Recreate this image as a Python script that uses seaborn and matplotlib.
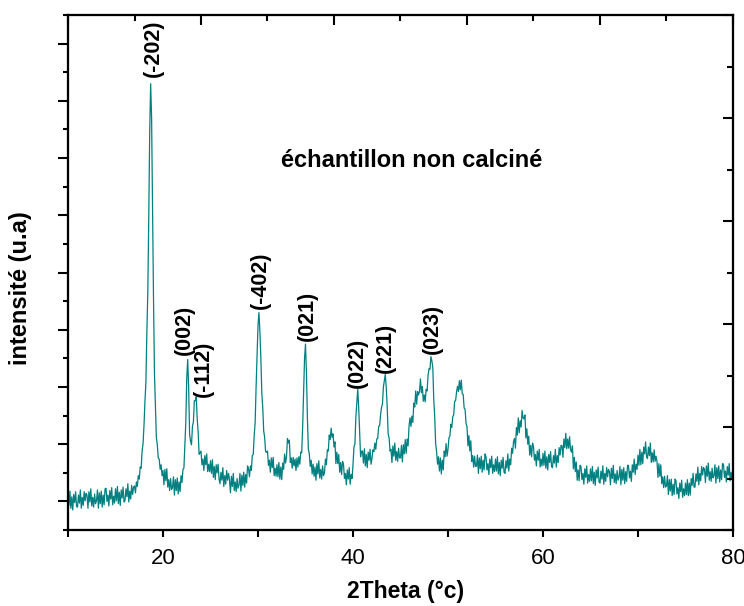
import numpy as np
import pandas as pd
import seaborn as sns
import matplotlib.pyplot as plt
from matplotlib.ticker import MultipleLocator, NullFormatter

# XRD scan: 10 to 80 deg, step 0.1 deg
scan_start = 10.0
scan_step = 0.1

intensity = [
    # 10
    1140, 930, 1180, 880, 1080, 850, 1120, 980, 1170, 910,
    900, 1110, 970, 1200, 880, 1070, 930, 1170, 1010, 1140,
    1110, 880, 1170, 990, 1220, 920, 1070, 900, 1130, 960,
    1010, 1200, 880, 1150, 960, 1180, 900, 1110, 940, 1220,
    1230, 1000, 1110, 920, 1190, 1040, 1240, 940, 1090, 970,
    # 15
    1220, 1010, 1260, 960, 1160, 930, 1200, 1060, 1250, 990,
    1010, 1220, 1080, 1310, 990, 1180, 1040, 1280, 1120, 1250,
    1270, 1150, 1340, 1260, 1450, 1390, 1600, 1580, 1880, 2010,
    2330, 2750, 3080, 3950, 4650, 5950, 7450, 8300, 7700, 6050,
    4560, 3250, 2650, 2120, 1990, 1760, 1740, 1560, 1640, 1450,
    # 20
    1540, 1290, 1560, 1360, 1570, 1250, 1380, 1190, 1400, 1210,
    1240, 1430, 1110, 1380, 1190, 1410, 1130, 1340, 1170, 1450,
    1330, 1560, 1580, 1960, 2380, 3150, 3480, 2990, 2170, 2050,
    1990, 2310, 2390, 2760, 2760, 2830, 2440, 2220, 1820, 1850,
    1880, 1640, 1740, 1540, 1800, 1640, 1830, 1520, 1650, 1520,
    # 25
    1710, 1490, 1730, 1420, 1610, 1380, 1640, 1500, 1650, 1390,
    1310, 1510, 1370, 1590, 1260, 1450, 1300, 1540, 1370, 1490,
    1380, 1150, 1440, 1260, 1490, 1190, 1340, 1170, 1400, 1230,
    1290, 1490, 1180, 1460, 1280, 1510, 1250, 1470, 1320, 1620,
    1570, 1430, 1620, 1540, 1800, 1820, 2150, 2380, 3000, 3520,
    # 30
    4080, 4300, 3960, 3510, 2900, 2640, 2230, 2120, 1870, 1860,
    1880, 1630, 1720, 1510, 1760, 1590, 1770, 1450, 1580, 1440,
    1640, 1430, 1680, 1390, 1600, 1380, 1670, 1560, 1830, 1670,
    1780, 2100, 2020, 2070, 1680, 1760, 1580, 1770, 1620, 1740,
    1540, 1760, 1600, 1780, 1650, 1860, 1850, 2300, 2900, 3500,
    # 35
    3750, 3250, 2460, 1920, 1830, 1610, 1720, 1480, 1650, 1440,
    1600, 1370, 1660, 1480, 1710, 1410, 1560, 1390, 1620, 1450,
    1500, 1740, 1640, 1900, 1880, 2160, 2080, 2280, 2120, 2180,
    1950, 2040, 1660, 1860, 1660, 1820, 1510, 1680, 1470, 1700,
    1650, 1400, 1490, 1290, 1550, 1390, 1590, 1300, 1470, 1400,
    # 40
    1640, 1950, 2000, 2470, 2730, 2960, 2640, 2220, 1780, 1880,
    1880, 1670, 1920, 1620, 1820, 1590, 1860, 1720, 1910, 1650,
    1750, 1900, 1870, 2020, 1910, 2090, 2100, 2310, 2320, 2510,
    2640, 2700, 3000, 3110, 3220, 2990, 2650, 2180, 2110, 1880,
    1910, 1680, 1970, 1790, 2020, 1720, 1870, 1700, 1930, 1760,
    # 45
    1760, 1980, 1690, 1990, 1830, 2080, 1840, 2090, 1970, 2320,
    2460, 2310, 2490, 2380, 2720, 2650, 2930, 2700, 2920, 2860,
    2920, 3140, 2900, 3010, 2750, 2860, 2740, 2960, 2930, 3200,
    3320, 3310, 3530, 3460, 3340, 2790, 2480, 2010, 1870, 1650,
    1780, 1530, 1760, 1480, 1720, 1550, 1880, 1780, 2010, 1790,
    # 50
    1910, 2110, 2140, 2350, 2290, 2480, 2510, 2750, 2760, 2910,
    3010, 2920, 3110, 2950, 3120, 2880, 2870, 2630, 2610, 2360,
    2310, 1970, 2150, 1880, 2060, 1700, 1800, 1600, 1790, 1610,
    1620, 1810, 1490, 1760, 1570, 1790, 1510, 1720, 1550, 1830,
    1780, 1550, 1660, 1470, 1740, 1590, 1790, 1490, 1640, 1520,
    # 55
    1740, 1530, 1780, 1480, 1680, 1450, 1720, 1580, 1770, 1510,
    1490, 1710, 1580, 1830, 1530, 1740, 1640, 1930, 1840, 2050,
    2100, 1930, 2290, 2160, 2460, 2200, 2410, 2300, 2590, 2460,
    2440, 2510, 2110, 2270, 2000, 2140, 1810, 1980, 1780, 2020,
    1960, 1720, 1820, 1620, 1880, 1720, 1910, 1600, 1740, 1620,
    # 60
    1840, 1630, 1880, 1580, 1780, 1550, 1820, 1680, 1870, 1610,
    1590, 1800, 1670, 1910, 1600, 1800, 1680, 1940, 1810, 1980,
    1970, 1770, 2090, 1940, 2190, 1920, 2090, 1930, 2130, 1900,
    1860, 1970, 1570, 1770, 1520, 1690, 1370, 1550, 1360, 1630,
    1610, 1380, 1490, 1300, 1570, 1420, 1620, 1320, 1470, 1350,
    # 65
    1570, 1360, 1610, 1310, 1510, 1280, 1550, 1410, 1600, 1340,
    1320, 1530, 1390, 1620, 1300, 1490, 1350, 1590, 1430, 1560,
    1520, 1290, 1580, 1400, 1630, 1330, 1480, 1310, 1540, 1370,
    1420, 1610, 1290, 1560, 1370, 1590, 1310, 1520, 1350, 1630,
    1630, 1410, 1530, 1350, 1640, 1510, 1740, 1470, 1650, 1560,
    # 70
    1810, 1630, 1910, 1640, 1860, 1660, 1950, 1830, 2040, 1780,
    1750, 1950, 1800, 2020, 1680, 1850, 1690, 1900, 1700, 1790,
    1700, 1420, 1660, 1440, 1640, 1310, 1430, 1240, 1440, 1250,
    1270, 1450, 1120, 1380, 1180, 1390, 1100, 1300, 1120, 1390,
    1360, 1130, 1240, 1050, 1320, 1170, 1370, 1070, 1220, 1100,
    # 75
    1320, 1120, 1380, 1100, 1320, 1110, 1400, 1280, 1490, 1250,
    1250, 1480, 1350, 1600, 1290, 1490, 1360, 1610, 1460, 1590,
    1560, 1330, 1620, 1440, 1670, 1370, 1520, 1350, 1580, 1410,
    1450, 1640, 1320, 1590, 1400, 1620, 1340, 1550, 1380, 1660,
    1650, 1420, 1530, 1340, 1610, 1460, 1660, 1360, 1510, 1390,
    1480,
]

# Miller indices of the labelled peaks
peak_labels = ["(-202)", "(002)", "(-112)", "(-402)", "(021)", "(022)", "(221)", "(023)"]
peak_pos = [18.95, 22.3, 24.2, 30.2, 35.2, 40.5, 43.4, 48.4]
peak_top = [8410, 3550, 2820, 4370, 3810, 2980, 3250, 3570]

two_theta = np.round(scan_start + scan_step * np.arange(len(intensity)), 2)
df = pd.DataFrame({"2theta": two_theta, "I": intensity})

sns.set_style("ticks")
plt.rcParams["font.family"] = ["Liberation Sans", "DejaVu Sans"]
plt.rcParams.update({
    "text.color": "black", "axes.labelcolor": "black", "axes.edgecolor": "black",
    "xtick.color": "black", "ytick.color": "black",
})

fig = plt.figure(figsize=(7.44, 6.06), dpi=100)
ax = fig.add_axes([0.0914, 0.1254, 0.8938, 0.8498])

sns.lineplot(data=df, x="2theta", y="I", ax=ax, color="#008080", linewidth=0.9)

ax.set_xlim(10, 80)
ax.set_ylim(500, 9500)

ax.xaxis.set_major_locator(MultipleLocator(20))
ax.xaxis.set_minor_locator(MultipleLocator(10))
ax.yaxis.set_major_locator(MultipleLocator(1000))
ax.yaxis.set_minor_locator(MultipleLocator(500))
ax.yaxis.set_major_formatter(NullFormatter())
ax.tick_params(axis="x", which="major", direction="out", length=5, width=1.5,
               labelsize=16, pad=8)
ax.tick_params(axis="x", which="minor", direction="out", length=5, width=1.5)
ax.tick_params(axis="y", which="major", direction="out", length=7, width=1.5)
ax.tick_params(axis="y", which="minor", direction="out", length=3.5, width=1.5)
for s in ax.spines.values():
    s.set_linewidth(1.5)
    s.set_visible(True)

# top and right frame ticks (inward, 0-10 scale)
ax_top = ax.twiny()
ax_top.set_xlim(0, 10)
ax_top.xaxis.set_major_locator(MultipleLocator(2))
ax_top.xaxis.set_minor_locator(MultipleLocator(1))
ax_top.xaxis.set_major_formatter(NullFormatter())
ax_top.tick_params(axis="x", which="major", direction="in", length=7, width=1.5)
ax_top.tick_params(axis="x", which="minor", direction="in", length=4, width=1.5)
ax_right = ax.twinx()
ax_right.set_ylim(0, 10)
ax_right.yaxis.set_major_locator(MultipleLocator(2))
ax_right.yaxis.set_minor_locator(MultipleLocator(1))
ax_right.yaxis.set_major_formatter(NullFormatter())
ax_right.tick_params(axis="y", which="major", direction="in", length=7, width=1.5)
ax_right.tick_params(axis="y", which="minor", direction="in", length=4, width=1.5)
for a in (ax_top, ax_right):
    for s in a.spines.values():
        s.set_linewidth(1.5)

for lab, x, y in zip(peak_labels, peak_pos, peak_top):
    ax.text(x, y, lab, rotation=90, ha="center", va="bottom",
            fontsize=15.5, fontweight="bold")

ax.text(46.2, 6960, "échantillon non calciné", ha="center", va="center",
        fontsize=17, fontweight="bold")

ax.set_xlabel("2Theta (°c)", fontsize=16.5, fontweight="bold")
ax.set_ylabel("intensité (u.a)", fontsize=17, fontweight="bold")
ax.xaxis.set_label_coords(0.507, -0.097)
ax.yaxis.set_label_coords(-0.054, 0.47)

fig.savefig("out.png", dpi=100)
